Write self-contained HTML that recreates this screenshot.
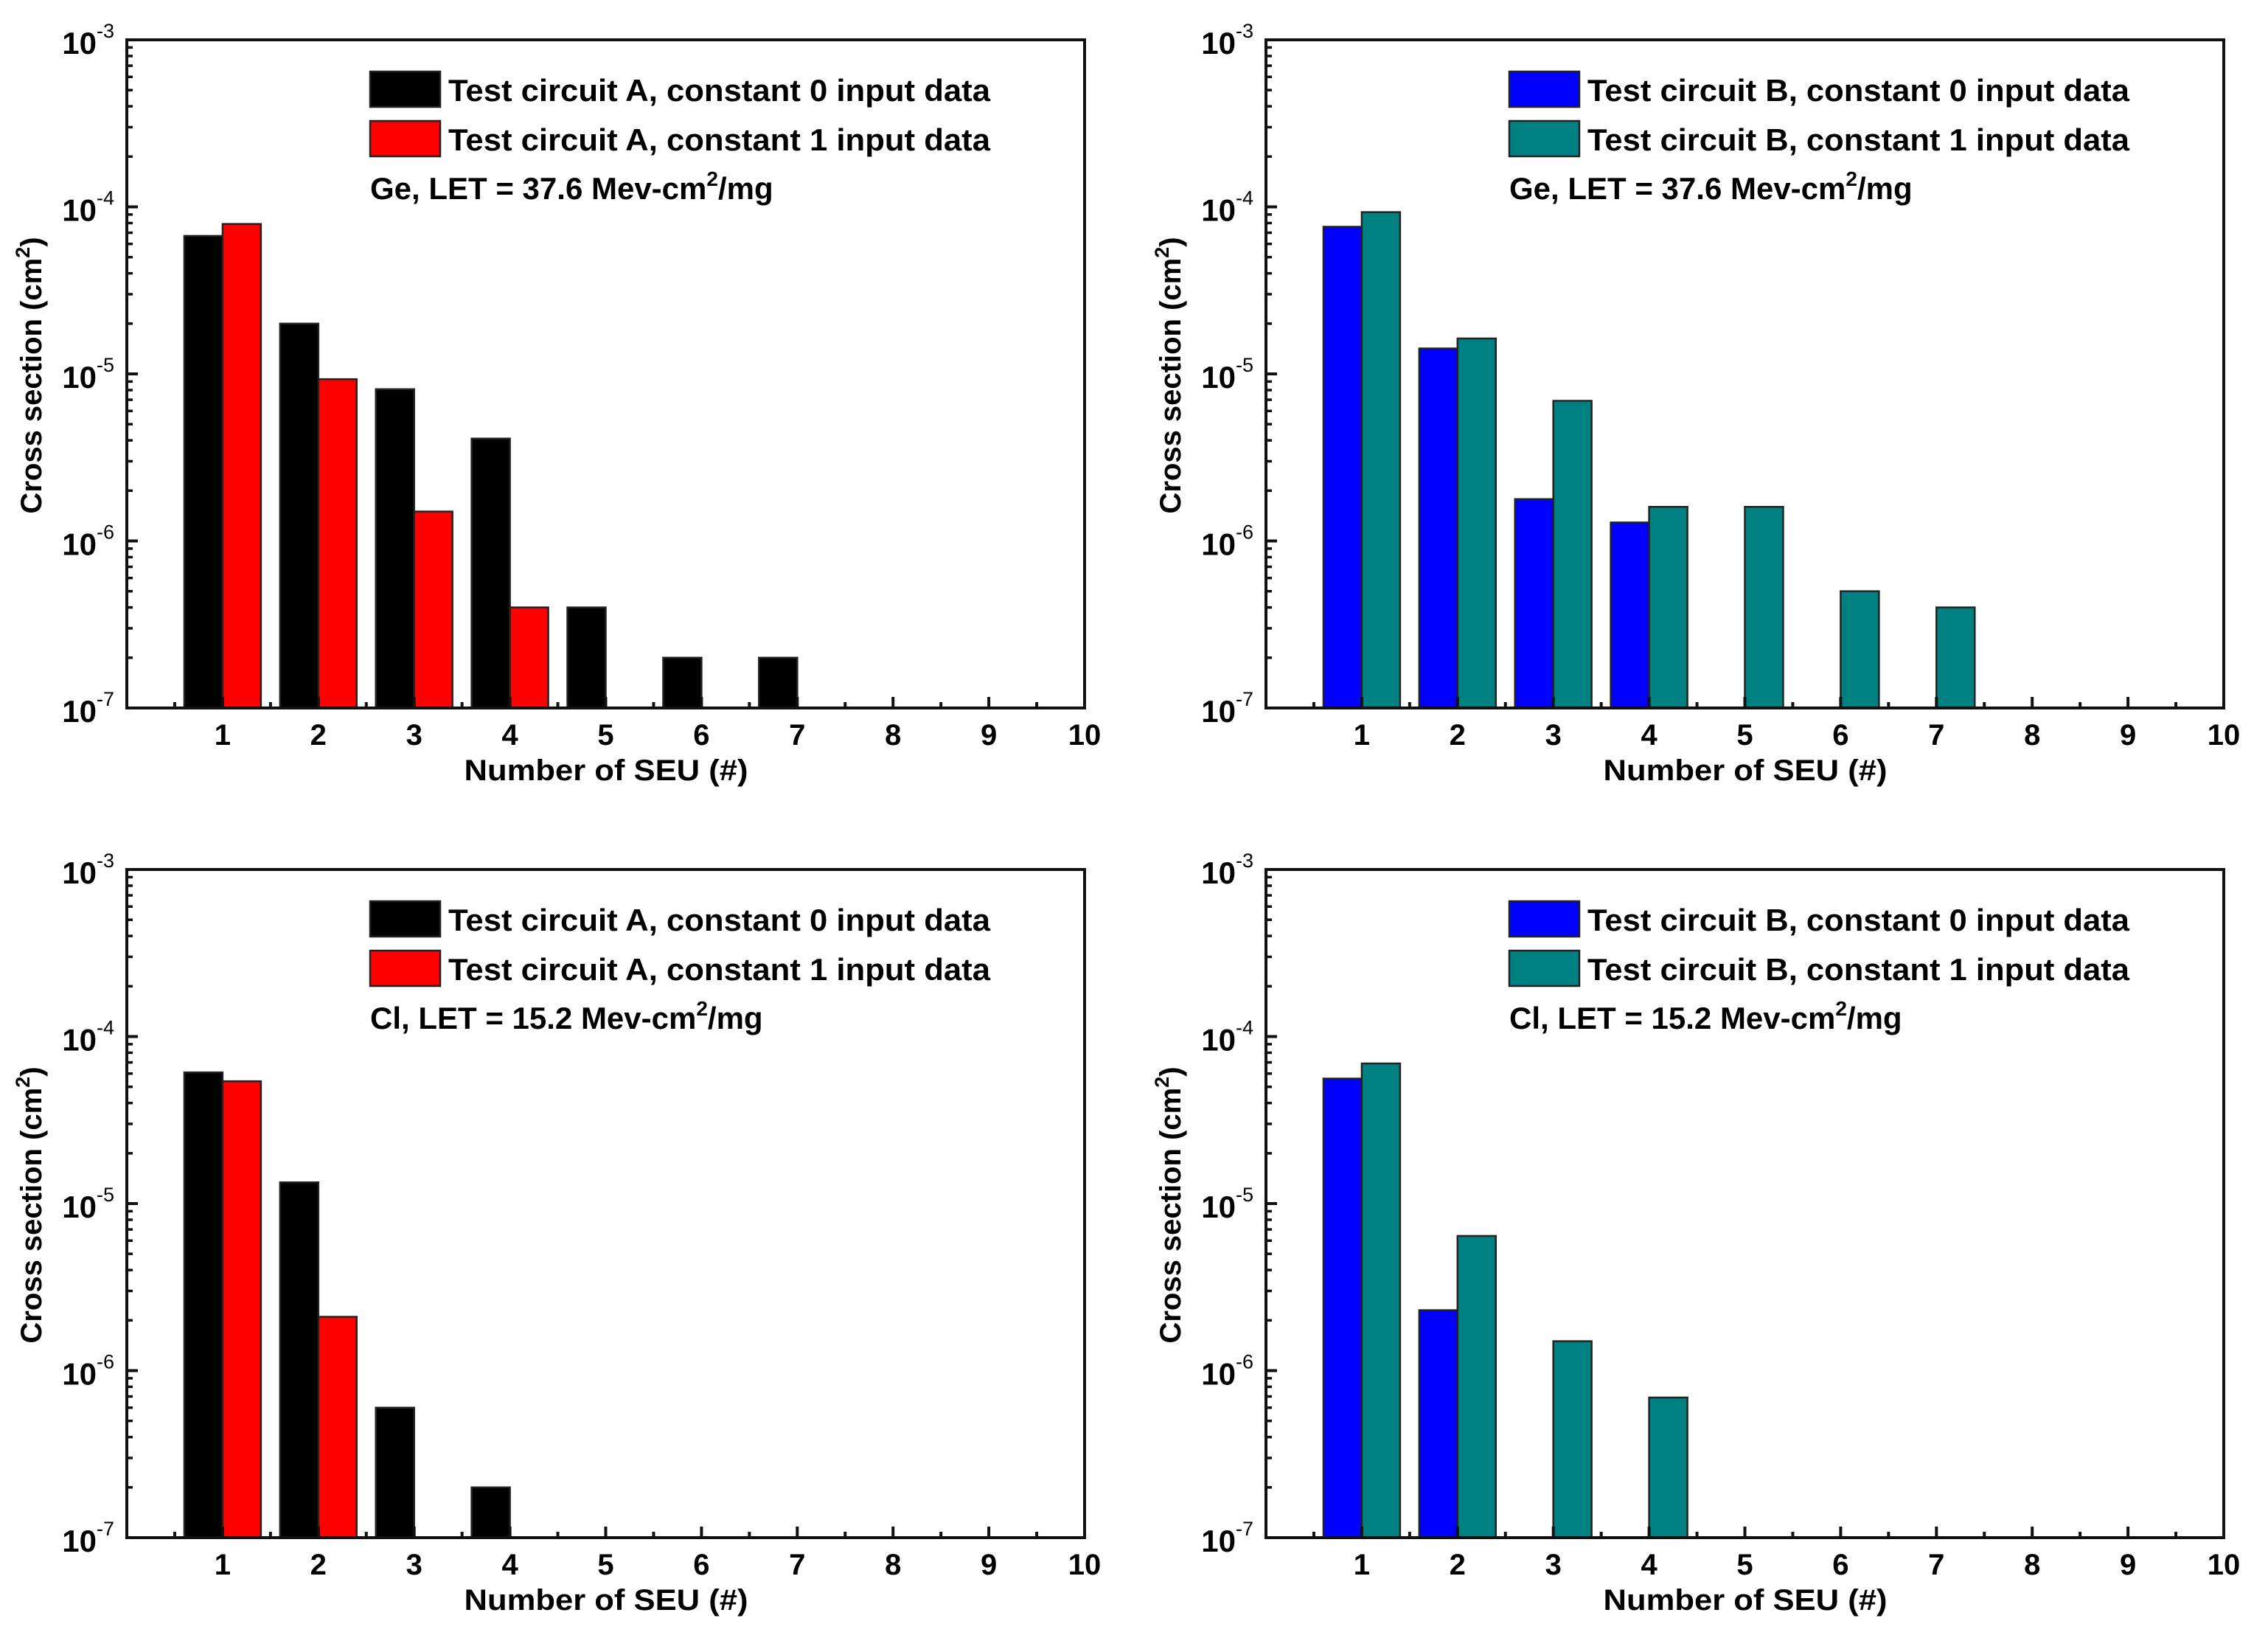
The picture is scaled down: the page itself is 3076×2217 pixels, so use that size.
<!DOCTYPE html>
<html><head><meta charset="utf-8"><style>
html,body{margin:0;padding:0;background:#fff;}
svg{display:block;font-family:"Liberation Sans",Arial,sans-serif;font-weight:bold;}
</style></head><body>
<svg id="fig" width="3076" height="2217" viewBox="0 0 3076 2217" xmlns="http://www.w3.org/2000/svg"></svg>
<script>
// ---- data ----
const categories = [1,2,3,4,5,6,7,8,9,10];
const geA0 = [6.7e-5, 2.0e-5, 8.1e-6, 4.1e-6, 4e-7, 2e-7, 2e-7];
const geA1 = [7.9e-5, 9.3e-6, 1.5e-6, 4e-7];
const geB0 = [7.6e-5, 1.42e-5, 1.78e-6, 1.29e-6];
const geB1 = [9.3e-5, 1.63e-5, 6.9e-6, 1.6e-6, 1.6e-6, 5e-7, 4e-7];
const clA0 = [6.1e-5, 1.34e-5, 6e-7, 2e-7];
const clA1 = [5.4e-5, 2.1e-6];
const clB0 = [5.6e-5, 2.3e-6];
const clB1 = [6.9e-5, 6.4e-6, 1.5e-6, 6.9e-7];
const yTickExps = [-7,-6,-5,-4,-3];
const legendA = ["Test circuit A, constant 0 input data","Test circuit A, constant 1 input data"];
const legendB = ["Test circuit B, constant 0 input data","Test circuit B, constant 1 input data"];

const NS = "http://www.w3.org/2000/svg";
const svg = document.getElementById('fig');
function mk(tag, attrs, parent){
  const e = document.createElementNS(NS, tag);
  for (const k in attrs) e.setAttribute(k, attrs[k]);
  (parent||svg).appendChild(e);
  return e;
}

function panel(id, L, T, s0, s1, c0, c1, legend, ion, let_){
  const W = 1299, H = 906, R = L + W, B = T + H;
  const g = mk('g', {});
  
  
  const xs = v => L + v * W / 10;
  const ys = v => B - (Math.log10(v) + 7) / 4 * H;
  const drawSeries = (arr, col, off, nm) => {
    arr.forEach((v, i) => {
      const x0 = xs(categories[i] + off), x1 = xs(categories[i] + off + 0.4);
      const r = mk('rect', {x: x0, y: ys(v), width: x1 - x0, height: B - ys(v), fill: col, stroke: '#222', 'stroke-width': 2.5}, g);
      
      
    });
  };
  drawSeries(s0, c0, -0.4, 'constant0');
  drawSeries(s1, c1, 0, 'constant1');
  const fr = mk('rect', {x: L, y: T, width: W, height: H, fill: 'none', stroke: '#111', 'stroke-width': 4}, g);
  
  
  for (let k = 1; k <= 19; k++) {
    const v = k / 2, x = xs(v), major = k % 2 === 0;
    mk('line', {x1: x, x2: x, y1: B, y2: B - (major ? 15 : 8), stroke: '#111', 'stroke-width': 4}, g);
  }
  categories.forEach(c => {
    const t = mk('text', {x: xs(c), y: B + 50, 'font-size': 40, 'text-anchor': 'middle'}, g);
    t.textContent = c;
    
    
  });
  yTickExps.forEach((e, idx) => {
    const y = ys(Math.pow(10, e));
    mk('line', {x1: L, x2: L + 15, y1: y, y2: y, stroke: '#111', 'stroke-width': 4}, g);
    if (idx < yTickExps.length - 1) {
      for (let m = 2; m <= 9; m++) {
        const ym = ys(m * Math.pow(10, e));
        mk('line', {x1: L, x2: L + 8, y1: ym, y2: ym, stroke: '#111', 'stroke-width': 3.5}, g);
      }
    }
    const t = mk('text', {x: L - 17, y: y + 19, 'font-size': 42, 'text-anchor': 'end'}, g);
    
    
    const a = mk('tspan', {}, t); a.textContent = '10';
    const b = mk('tspan', {dy: -22, 'font-size': 27, 'font-weight': 'normal'}, t); b.textContent = String(e);
  });
  const xt = mk('text', {x: L + 650, y: B + 98, 'font-size': 40, 'text-anchor': 'middle', textLength: 385, lengthAdjust: 'spacingAndGlyphs'}, g);
  xt.textContent = 'Number of SEU (#)';
  
  
  const yc = (T + B) / 2 + 2;
  const yt = mk('text', {x: 0, y: 0, 'font-size': 40, 'text-anchor': 'middle', transform: `translate(${L - 116},${yc}) rotate(-90)`}, g);
  
  
  const y1 = mk('tspan', {}, yt); y1.textContent = 'Cross section (cm';
  const y2 = mk('tspan', {dy: -16, 'font-size': 27}, yt); y2.textContent = '2';
  const y3 = mk('tspan', {dy: 16}, yt); y3.textContent = ')';
  const lx = L + 330;
  [[c0, legend[0], 43], [c1, legend[1], 110]].forEach((d, i) => {
    const sw = mk('rect', {x: lx, y: T + d[2], width: 95, height: 48, fill: d[0], stroke: '#222', 'stroke-width': 2.5}, g);
    
    
    const t = mk('text', {x: lx + 106, y: T + d[2] + 40, 'font-size': 42, textLength: 735, lengthAdjust: 'spacingAndGlyphs'}, g);
    t.textContent = d[1];
    
    
  });
  const it = mk('text', {x: lx, y: T + 216, 'font-size': 42}, g);
  
  
  const i1 = mk('tspan', {}, it); i1.textContent = ion + ', LET = ' + let_ + ' Mev-cm';
  const i2 = mk('tspan', {dy: -18, 'font-size': 28}, it); i2.textContent = '2';
  const i3 = mk('tspan', {dy: 18}, it); i3.textContent = '/mg';
}

panel('panel-ge-a', 172, 54, geA0, geA1, '#000000', '#ff0000', legendA, 'Ge', '37.6');
panel('panel-ge-b', 1717, 54, geB0, geB1, '#0000ff', '#008080', legendB, 'Ge', '37.6');
panel('panel-cl-a', 172, 1179, clA0, clA1, '#000000', '#ff0000', legendA, 'Cl', '15.2');
panel('panel-cl-b', 1717, 1179, clB0, clB1, '#0000ff', '#008080', legendB, 'Cl', '15.2');
</script>
</body></html>
